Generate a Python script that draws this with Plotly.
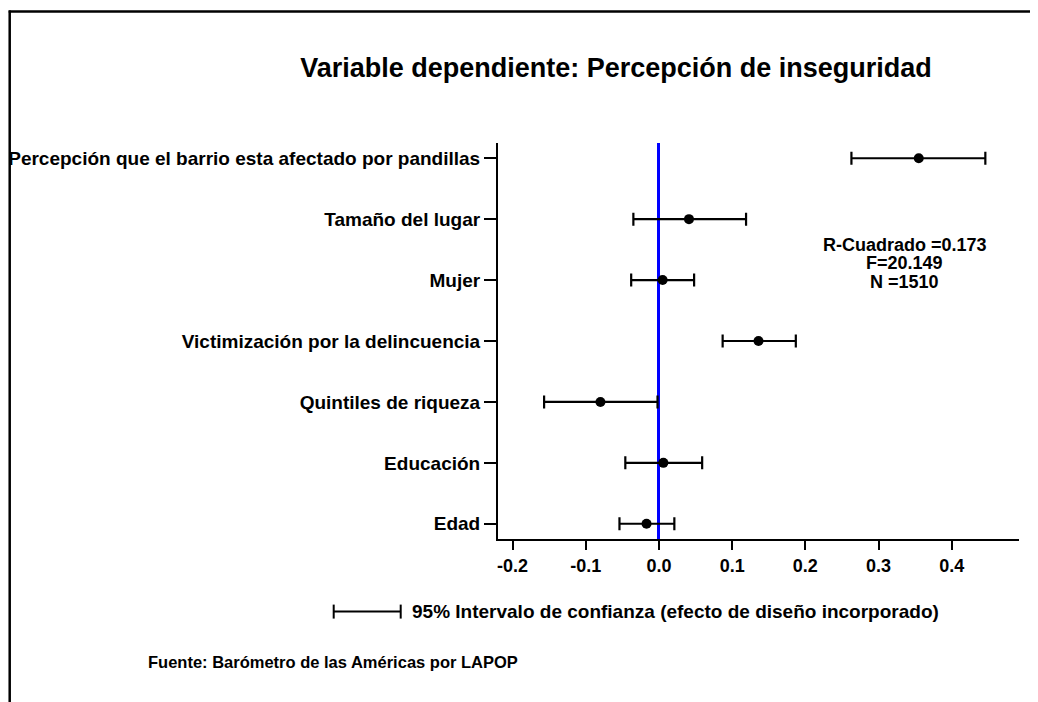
import plotly.graph_objects as go

# ---- data ----
variables = [
    "Edad",
    "Educación",
    "Quintiles de riqueza",
    "Victimización por la delincuencia",
    "Mujer",
    "Tamaño del lugar",
    "Percepción que el barrio esta afectado por pandillas",
]
coef = [-0.017, 0.006, -0.080, 0.136, 0.005, 0.041, 0.355]
ci_low = [-0.054, -0.046, -0.157, 0.087, -0.038, -0.035, 0.263]
ci_high = [0.021, 0.059, -0.002, 0.187, 0.048, 0.119, 0.446]
x_ticks = [-0.2, -0.1, 0.0, 0.1, 0.2, 0.3, 0.4]
x_tick_labels = ["-0.2", "-0.1", "0.0", "0.1", "0.2", "0.3", "0.4"]
title_text = "Variable dependiente: Percepción de inseguridad"
stats_lines = ["R-Cuadrado =0.173", "F=20.149", "N =1510"]
legend_text = "95% Intervalo de confianza (efecto de diseño incorporado)"
source_text = "Fuente: Barómetro de las Américas por LAPOP"

W, H = 1038, 702
OFF = 8  # page body margin
L, R, T, B = 490.3, 1011.3, 134.7, 531.3  # plot area in figure pixels
FONT = "Liberation Sans"


def px(xp):
    return (xp - OFF - L) / (R - L)


def py(yp):
    return (B - (yp - OFF)) / (B - T)


ypos = list(range(len(variables)))
err_plus = [h - c for h, c in zip(ci_high, coef)]
err_minus = [c - l for c, l in zip(coef, ci_low)]

fig = go.Figure()
fig.add_trace(go.Scatter(
    x=coef, y=ypos, mode="markers",
    marker=dict(color="black", size=10),
    error_x=dict(type="data", symmetric=False, array=err_plus, arrayminus=err_minus,
                 color="black", thickness=2.2, width=6.5),
    showlegend=False, hoverinfo="skip",
))

fig.update_layout(
    width=W, height=H, autosize=False,
    margin=dict(l=L, r=W - R, t=T, b=H - B, pad=0, autoexpand=False),
    paper_bgcolor="white", plot_bgcolor="white",
    font=dict(family=FONT, color="black"),
    title=dict(text=title_text, x=(616 - OFF) / W, xref="container", xanchor="center",
               y=1 - (68 - OFF) / H, yref="container", yanchor="middle",
               font=dict(family=FONT, size=27, weight="bold", color="black")),
    xaxis=dict(range=[-0.22, 0.492], tickvals=x_ticks, ticktext=x_tick_labels,
               showline=True, linecolor="black", linewidth=2, automargin=False,
               ticks="outside", ticklen=9, tickwidth=1.5, tickcolor="black",
               showgrid=False, zeroline=True, zerolinecolor="blue", zerolinewidth=3,
               tickfont=dict(family=FONT, size=18, weight="bold", color="black"),
               fixedrange=True),
    yaxis=dict(range=[-0.25, 6.25], tickvals=ypos, ticktext=variables,
               showline=True, linecolor="black", linewidth=2, automargin=False,
               ticks="outside", ticklen=12, tickwidth=1.5, tickcolor="black",
               showgrid=False, zeroline=False,
               tickfont=dict(family=FONT, size=19, weight="bold", color="black"),
               fixedrange=True),
)

for line, yy in zip(stats_lines, [245, 263, 282]):
    fig.add_annotation(x=px(905), y=py(yy), xref="paper", yref="paper", text=line,
                       showarrow=False, xanchor="center", yanchor="middle",
                       font=dict(family=FONT, size=18, weight="bold", color="black"))

# legend-like CI symbol
ly = py(612)
fig.add_shape(type="line", xref="paper", yref="paper", x0=px(334), x1=px(401), y0=ly, y1=ly,
              line=dict(color="black", width=2))
for xx in (334, 401):
    fig.add_shape(type="line", xref="paper", yref="paper", x0=px(xx), x1=px(xx),
                  y0=py(605), y1=py(619), line=dict(color="black", width=2))
fig.add_annotation(x=px(410), y=ly, xref="paper", yref="paper", text=legend_text,
                   showarrow=False, xanchor="left", yanchor="middle",
                   font=dict(family=FONT, size=19, weight="bold", color="black"))
fig.add_annotation(x=px(146), y=py(662), xref="paper", yref="paper", text=source_text,
                   showarrow=False, xanchor="left", yanchor="middle",
                   font=dict(family=FONT, size=16.5, weight="bold", color="black"))

# frame lines
fig.add_shape(type="line", xref="paper", yref="paper", x0=px(9), x1=px(1050), y0=py(11), y1=py(11),
              line=dict(color="black", width=2.5))
fig.add_shape(type="line", xref="paper", yref="paper", x0=px(10), x1=px(10), y0=py(10), y1=py(720),
              line=dict(color="black", width=2.5))

fig.write_html("out.html")
